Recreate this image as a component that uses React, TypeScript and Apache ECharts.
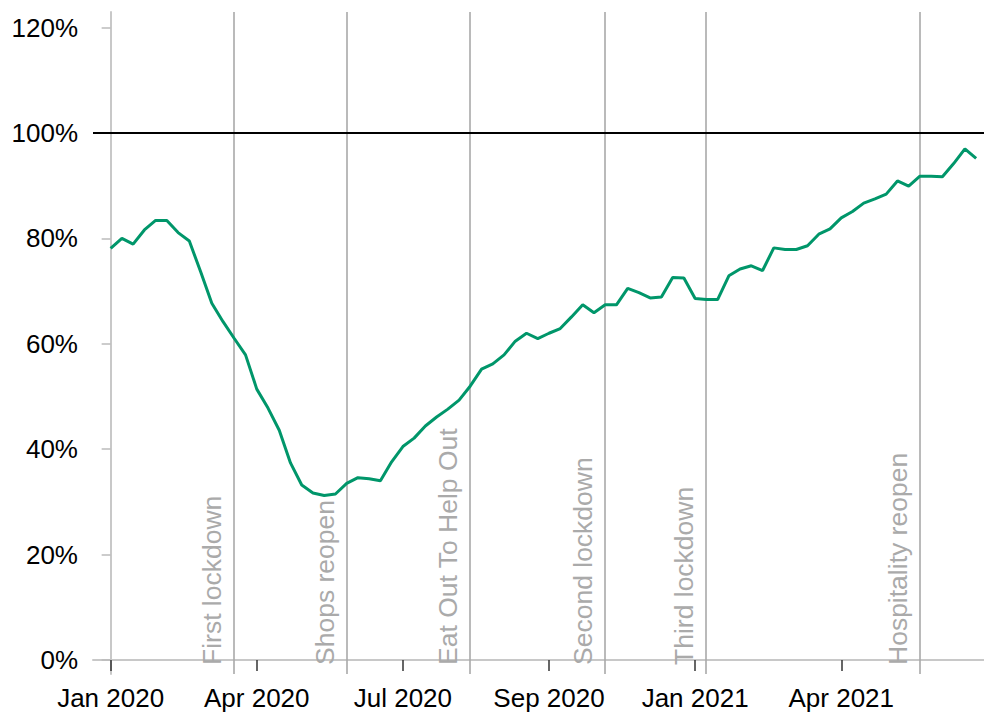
import React, { useEffect, useRef } from "react";
import * as echarts from "echarts";

// weekly index (0 = first week of Jan 2020)
const values: number[] = [
  78.1, 80.0, 78.9, 81.6, 83.4, 83.4, 81.1, 79.5, 73.7, 67.7,
  64.2, 61.0, 57.9, 51.4, 47.8, 43.6, 37.4, 33.2, 31.7, 31.2,
  31.5, 33.5, 34.6, 34.4, 34.0, 37.6, 40.5, 42.1, 44.4, 46.1,
  47.6, 49.3, 52.0, 55.2, 56.2, 57.9, 60.5, 62.0, 61.0, 62.0,
  62.9, 65.1, 67.4, 65.9, 67.4, 67.4, 70.5, 69.7, 68.7, 68.9,
  72.6, 72.5, 68.6, 68.4, 68.4, 72.9, 74.2, 74.8, 73.9, 78.2,
  77.9, 77.9, 78.6, 80.8, 81.8, 83.9, 85.1, 86.7, 87.5, 88.4,
  90.9, 89.9, 91.8, 91.8, 91.7, 94.2, 97.0, 95.2,
];

const xTickWeeks: number[] = [0, 13, 26, 39, 52, 65];
const xTickLabels: string[] = ["Jan 2020", "Apr 2020", "Jul 2020", "Sep 2020", "Jan 2021", "Apr 2021"];

const yTicks: number[] = [0, 20, 40, 60, 80, 100, 120];

const eventNames: string[] = [
  "First lockdown",
  "Shops reopen",
  "Eat Out To Help Out",
  "Second lockdown",
  "Third lockdown",
  "Hospitality reopen",
];
const eventWeeks: number[] = [10.93, 20.98, 31.96, 43.97, 52.96, 72.0];

const baseline = 100;

export default function App() {
  const ref = useRef<HTMLDivElement>(null);
  useEffect(() => {
    if (!ref.current) return;
    const chart = echarts.init(ref.current, null, { renderer: "svg" });
    const font = "Liberation Sans, Arial, sans-serif";
    const seriesData = values.map((v, i) => [i, v]);
    const eventLines = eventNames.map((name, i) => ({
      xAxis: eventWeeks[i],
      lineStyle: { color: "#a9a9a9", width: 1.6, type: "solid" },
      label: {
        show: true,
        formatter: name,
        position: "insideStartTop",
        distance: [9, 8],
        color: "#aaaaaa",
        fontSize: 26.5,
        fontFamily: font,
      },
    }));
    chart.setOption({
      animation: false,
      backgroundColor: "#ffffff",
      grid: { left: 93, right: 0, top: 12, bottom: 47, containLabel: false },
      xAxis: {
        type: "value",
        min: -1.57,
        max: 77.7,
        axisLine: { show: true, lineStyle: { color: "#c8c8c8", width: 2 } },
        axisTick: {
          show: true,
          length: 11,
          customValues: xTickWeeks,
          lineStyle: { color: "#333333", width: 1.5 },
        },
        axisLabel: {
          customValues: xTickWeeks,
          formatter: (v: number) => {
            const k = xTickWeeks.indexOf(Math.round(v));
            return k >= 0 ? xTickLabels[k] : "";
          },
          margin: 11,
          color: "#000000",
          fontSize: 26,
          fontFamily: font,
        },
        splitLine: { show: false },
      },
      yAxis: {
        type: "value",
        min: -2.66,
        max: 122.96,
        axisLine: { show: true, lineStyle: { color: "#c8c8c8", width: 2 } },
        axisTick: {
          show: true,
          length: 9,
          customValues: yTicks,
          lineStyle: { color: "#bbbbbb", width: 1.5 },
        },
        axisLabel: {
          customValues: yTicks,
          formatter: (v: number) => `${Math.round(v)}%`,
          margin: 15,
          color: "#000000",
          fontSize: 26,
          fontFamily: font,
        },
        splitLine: { show: false },
      },
      series: [
        {
          type: "line",
          data: seriesData,
          showSymbol: false,
          lineStyle: { color: "#00966a", width: 3 },
          z: 5,
          markLine: {
            silent: true,
            symbol: "none",
            animation: false,
            data: [
              ...eventLines,
              {
                yAxis: baseline,
                lineStyle: { color: "#000000", width: 2, type: "solid" },
                label: { show: false },
              },
            ],
          },
        },
      ],
    });
    return () => chart.dispose();
  }, []);
  return (
    <div
      ref={ref}
      style={{ position: "fixed", left: 0, top: 0, width: 984, height: 721 }}
    />
  );
}
